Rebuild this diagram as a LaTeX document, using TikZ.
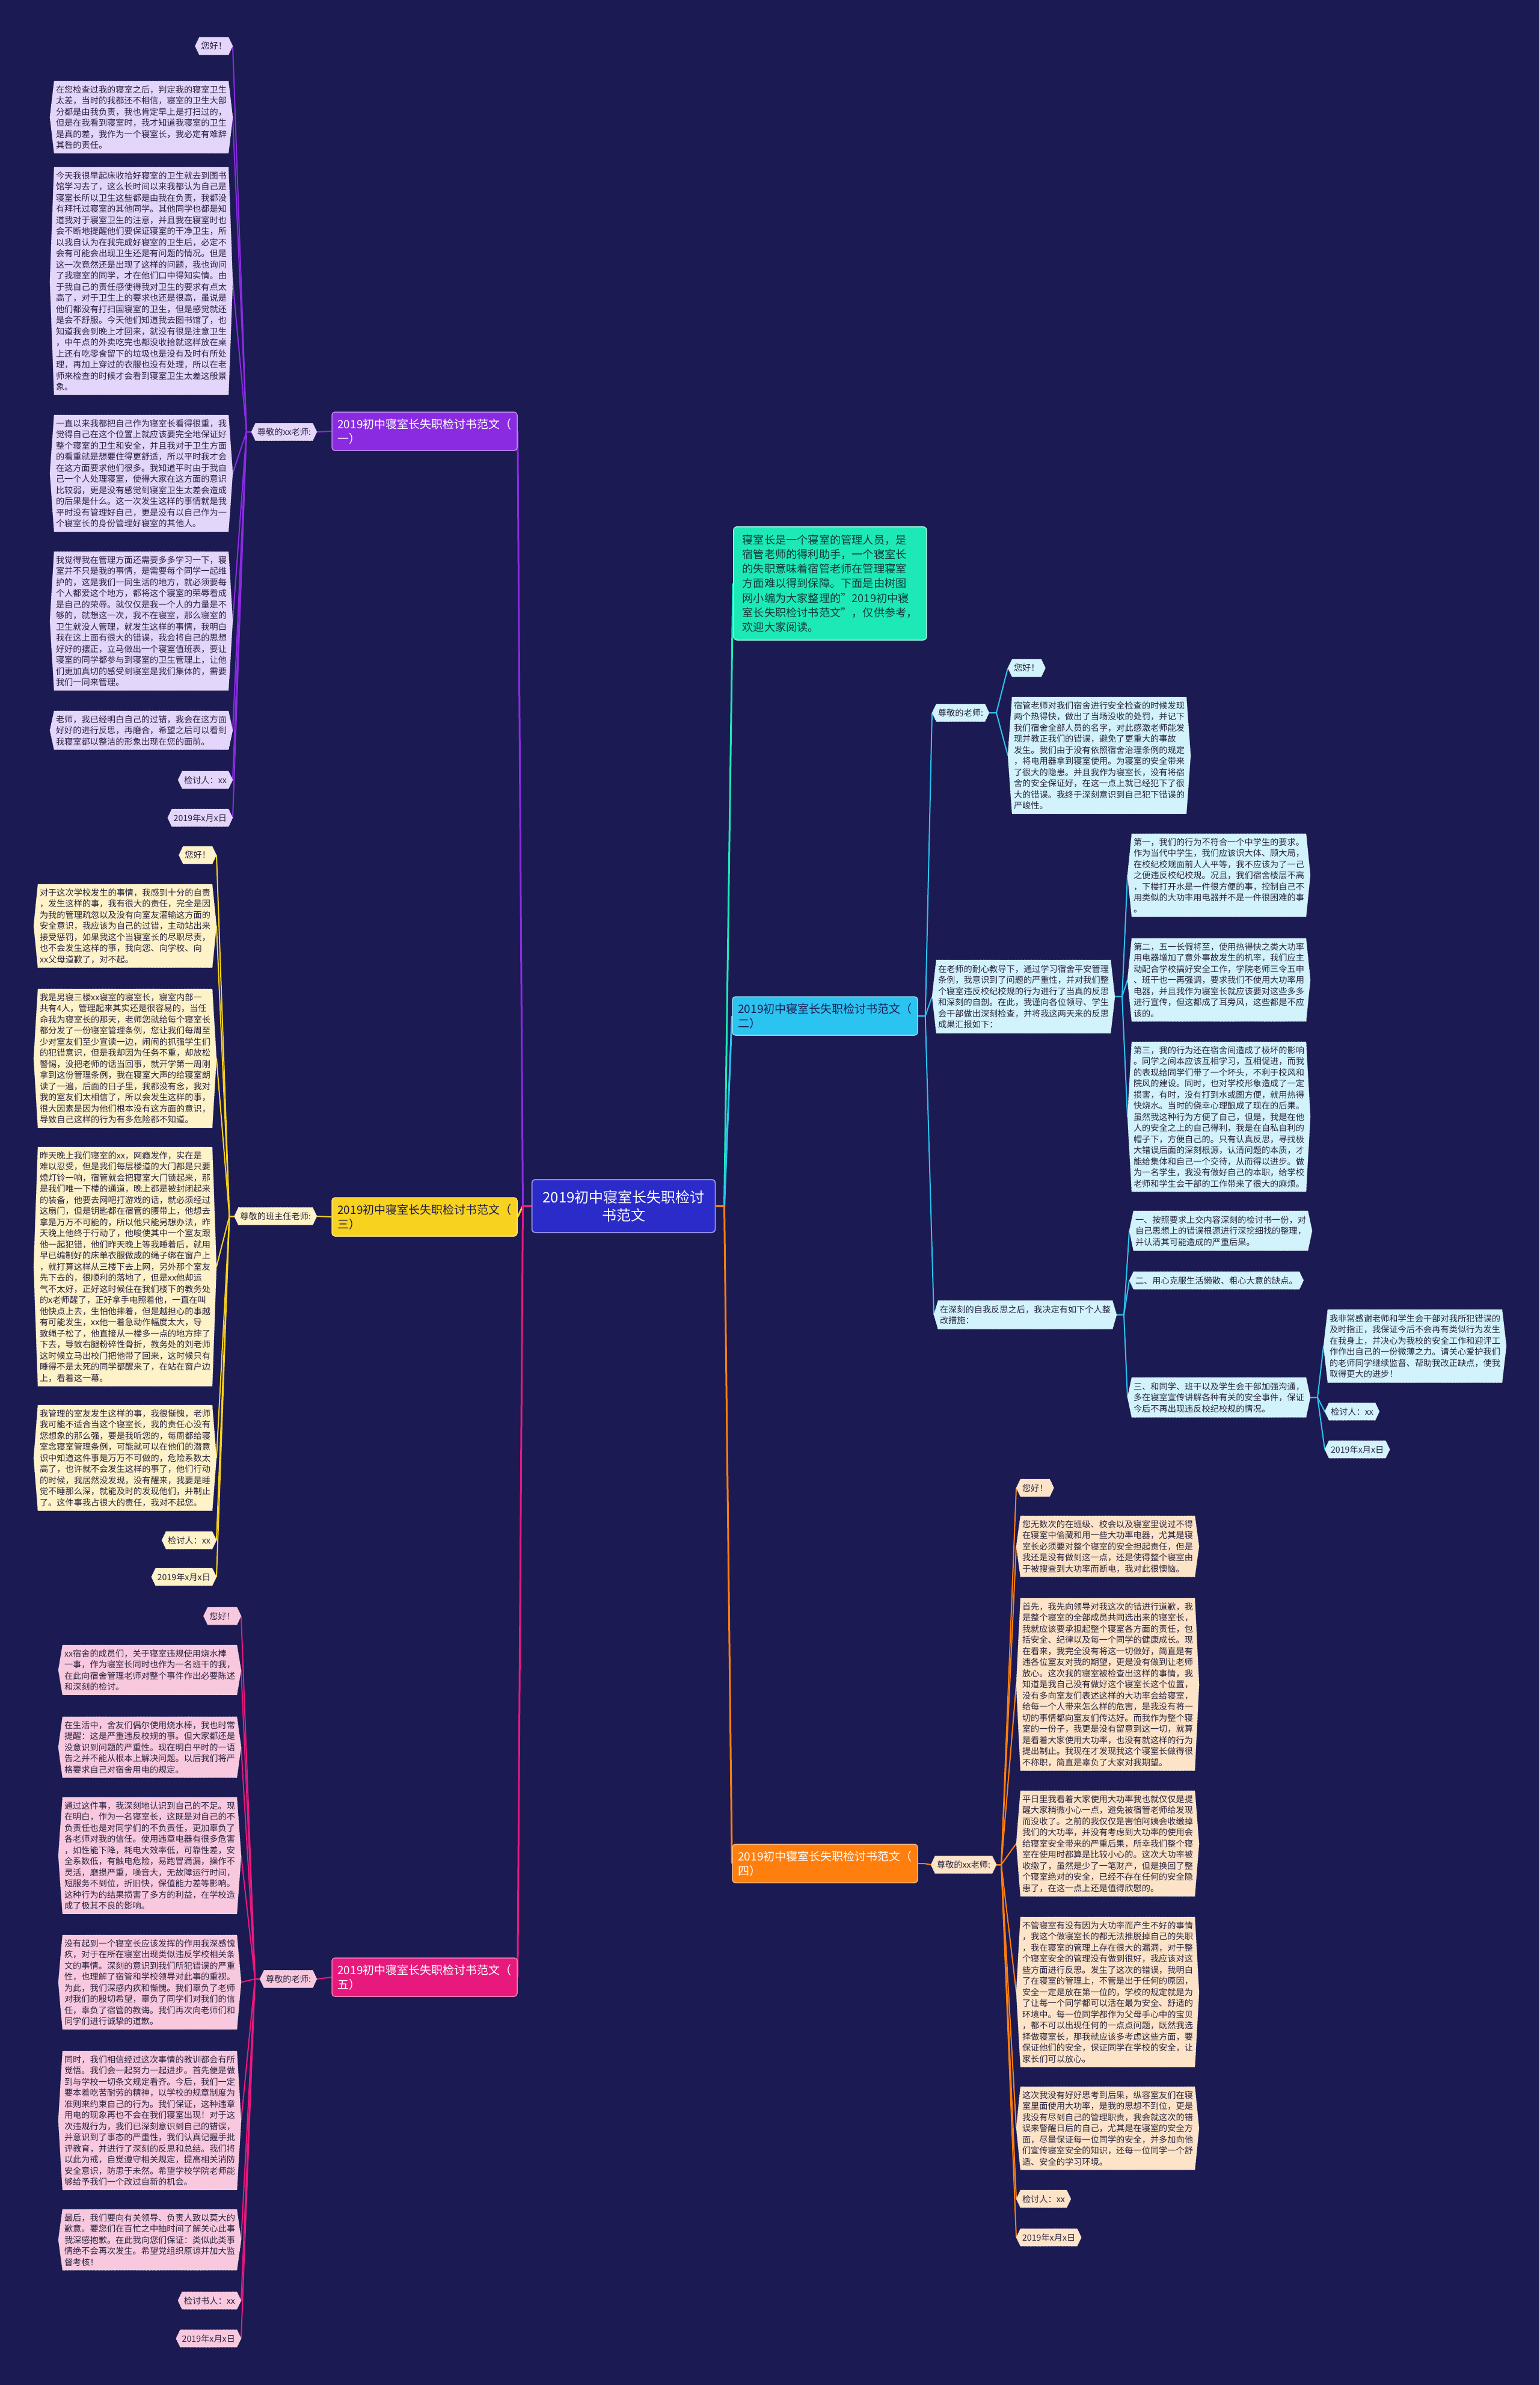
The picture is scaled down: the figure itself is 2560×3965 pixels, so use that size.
\documentclass[tikz,border=0pt]{standalone}
\usepackage{fontspec}
\setmainfont{Noto Sans CJK SC}
\usetikzlibrary{calc}
\pgfdeclarelayer{canvas}
\pgfdeclarelayer{edges}
\pgfdeclarelayer{hexbg}
\pgfsetlayers{canvas,edges,hexbg,main}
\definecolor{navybg}{HTML}{1B1A52}
\definecolor{txt}{HTML}{2A2440}
\definecolor{darktxt}{HTML}{1B1A52}
\definecolor{pur}{HTML}{8A2BE2}
\definecolor{purL}{HTML}{E3D6FA}
\definecolor{cya}{HTML}{2BC3F0}
\definecolor{cyaL}{HTML}{D2F3FB}
\definecolor{yel}{HTML}{F7D21E}
\definecolor{yelL}{HTML}{FDF2C8}
\definecolor{ora}{HTML}{FF7F0E}
\definecolor{oraL}{HTML}{FDE4C8}
\definecolor{pnk}{HTML}{E8197D}
\definecolor{pnkL}{HTML}{F8C9DE}
\definecolor{introc}{HTML}{1DE9B6}
\definecolor{introtxt}{HTML}{123A3A}
\definecolor{cblue}{HTML}{2B2BC9}
\tikzset{
  hxleaf/.style={font=\fontsize{14.2}{18.5}\selectfont, text=txt, align=left, inner xsep=3pt, inner ysep=7pt, outer sep=0pt},
  hxtag/.style={hxleaf, inner ysep=8pt},
  hexline/.style={draw=white!80!gray, densely dotted, line width=0.7pt},
  brtitle/.style={font=\fontsize{19}{24}\selectfont, align=left, rounded corners=5pt, minimum width=308pt, minimum height=64pt, line width=1.5pt, inner sep=8pt},
  lnk/.style={line width=2pt},
  trk/.style={line width=3pt}
}
\newcommand\hxfill{purL}
\newcommand\hx[4]{%
  \node[#1] (#2) at #3 {#4};
  \coordinate (#2-r) at ([xshift=7pt]#2.east);
  \coordinate (#2-l) at ([xshift=-7pt]#2.west);
  \begin{pgfonlayer}{hexbg}
    \path[hexline, fill=\hxfill] (#2.north west) -- (#2.north east) -- (#2-r) -- (#2.south east) -- (#2.south west) -- (#2-l) -- cycle;
  \end{pgfonlayer}}
\begin{document}
\begin{tikzpicture}[x=1pt,y=-1pt]
\begin{pgfonlayer}{canvas}
\fill[navybg] (0,0) rectangle (2560,3965);
\end{pgfonlayer}
\useasboundingbox (0,0) rectangle (2560,3965);

% centre and intro
\node[font=\fontsize{24}{30}\selectfont, align=center, fill=cblue, draw=cblue!55!white, line width=2pt, rounded corners=6pt, text=white, minimum width=305pt, minimum height=88pt] (c) at (1037,2005) {2019初中寝室长失职检讨\\书范文};
\node[font=\fontsize{18.2}{24.2}\selectfont, align=left, fill=introc, draw=introc!45!white, line width=1.5pt, rounded corners=6pt, text=introtxt, inner xsep=15pt, inner ysep=13pt, anchor=north west] (intro) at (1219,875) {寝室长是一个寝室的管理人员，是\\
宿管老师的得利助手，一个寝室长\\
的失职意味着宿管老师在管理寝室\\
方面难以得到保障。下面是由树图\\
网小编为大家整理的"2019初中寝\\
室长失职检讨书范文"，仅供参考，\\
欢迎大家阅读。};

% titles
\node[brtitle, fill=pur, draw=pur!55!white, text=white] (t1) at (706,717) {2019初中寝室长失职检讨书范文（\\一）};
\node[brtitle, fill=cya, draw=cya!55!white, text=darktxt] (t2) at (1372,1689) {2019初中寝室长失职检讨书范文（\\二）};
\node[brtitle, fill=yel, draw=yel!55!white, text=darktxt] (t3) at (706,2023) {2019初中寝室长失职检讨书范文（\\三）};
\node[brtitle, fill=ora, draw=ora!55!white, text=white] (t4) at (1372,3098) {2019初中寝室长失职检讨书范文（\\四）};
\node[brtitle, fill=pnk, draw=pnk!55!white, text=white] (t5) at (706,3287) {2019初中寝室长失职检讨书范文（\\五）};

% ---------------- branch 1
\renewcommand\hxfill{purL}
\hx{hxtag,anchor=east}{b1lab}{(520,718)}{尊敬的xx老师:}
\hx{hxtag,anchor=north east}{b1hi}{(380,62)}{您好！}
\hx{hxleaf,anchor=north east}{b1p1}{(380,135)}{在您检查过我的寝室之后，判定我的寝室卫生\\
太差，当时的我都还不相信，寝室的卫生大部\\
分都是由我负责，我也肯定早上是打扫过的，\\
但是在我看到寝室时，我才知道我寝室的卫生\\
是真的差，我作为一个寝室长，我必定有难辞\\
其咎的责任。}
\hx{hxleaf,anchor=north east}{b1p2}{(380,278)}{今天我很早起床收拾好寝室的卫生就去到图书\\
馆学习去了，这么长时间以来我都认为自己是\\
寝室长所以卫生这些都是由我在负责，我都没\\
有拜托过寝室的其他同学。其他同学也都是知\\
道我对于寝室卫生的注意，并且我在寝室时也\\
会不断地提醒他们要保证寝室的干净卫生，所\\
以我自认为在我完成好寝室的卫生后，必定不\\
会有可能会出现卫生还是有问题的情况。但是\\
这一次竟然还是出现了这样的问题，我也询问\\
了我寝室的同学，才在他们口中得知实情。由\\
于我自己的责任感使得我对卫生的要求有点太\\
高了，对于卫生上的要求也还是很高，虽说是\\
他们都没有打扫国寝室的卫生，但是感觉就还\\
是会不舒服。今天他们知道我去图书馆了，也\\
知道我会到晚上才回来，就没有很是注意卫生\\
，中午点的外卖吃完也都没收拾就这样放在桌\\
上还有吃零食留下的垃圾也是没有及时有所处\\
理，再加上穿过的衣服也没有处理，所以在老\\
师来检查的时候才会看到寝室卫生太差这般景\\
象。}
\hx{hxleaf,anchor=north east}{b1p3}{(380,690)}{一直以来我都把自己作为寝室长看得很重，我\\
觉得自己在这个位置上就应该要完全地保证好\\
整个寝室的卫生和安全，并且我对于卫生方面\\
的看重就是想要住得更舒适，所以平时我才会\\
在这方面要求他们很多。我知道平时由于我自\\
己一个人处理寝室，使得大家在这方面的意识\\
比较弱，更是没有感觉到寝室卫生太差会造成\\
的后果是什么。这一次发生这样的事情就是我\\
平时没有管理好自己，更是没有以自己作为一\\
个寝室长的身份管理好寝室的其他人。}
\hx{hxleaf,anchor=north east}{b1p4}{(380,917)}{我觉得我在管理方面还需要多多学习一下，寝\\
室并不只是我的事情，是需要每个同学一起维\\
护的，这是我们一同生活的地方，就必须要每\\
个人都爱这个地方，都将这个寝室的荣辱看成\\
是自己的荣辱。就仅仅是我一个人的力量是不\\
够的，就想这一次，我不在寝室，那么寝室的\\
卫生就没人管理，就发生这样的事情，我明白\\
我在这上面有很大的错误，我会将自己的思想\\
好好的摆正，立马做出一个寝室值班表，要让\\
寝室的同学都参与到寝室的卫生管理上，让他\\
们更加真切的感受到寝室是我们集体的，需要\\
我们一同来管理。}
\hx{hxleaf,anchor=north east}{b1p5}{(380,1182)}{老师，我已经明白自己的过错，我会在这方面\\
好好的进行反思，再磨合，希望之后可以看到\\
我寝室都以整洁的形象出现在您的面前。}
\hx{hxtag,anchor=north east}{b1sig}{(380,1282)}{检讨人：xx}
\hx{hxtag,anchor=north east}{b1date}{(380,1345)}{2019年x月x日}

% ---------------- branch 3
\renewcommand\hxfill{yelL}
\hx{hxtag,anchor=east}{b3lab}{(520,2022)}{尊敬的班主任老师:}
\hx{hxtag,anchor=north east}{b3hi}{(353,1407)}{您好！}
\hx{hxleaf,anchor=north east}{b3p1}{(353,1470)}{对于这次学校发生的事情，我感到十分的自责\\
，发生这样的事，我有很大的责任，完全是因\\
为我的管理疏忽以及没有向室友灌输这方面的\\
安全意识，我应该为自己的过错，主动站出来\\
接受惩罚，如果我这个当寝室长的尽职尽责，\\
也不会发生这样的事，我向您、向学校、向\\
xx父母道歉了，对不起。}
\hx{hxleaf,anchor=north east}{b3p2}{(353,1644)}{我是男寝三楼xx寝室的寝室长，寝室内部一\\
共有4人，管理起来其实还是很容易的，当任\\
命我为寝室长的那天，老师您就给每个寝室长\\
都分发了一份寝室管理条例，您让我们每周至\\
少对室友们至少宣读一边，闹闹的抓强学生们\\
的犯错意识，但是我却因为任务不重，却放松\\
警惕，没把老师的话当回事，就开学第一周刚\\
拿到这份管理条例，我在寝室大声的给寝室朗\\
读了一遍，后面的日子里，我都没有念，我对\\
我的室友们太相信了，所以会发生这样的事，\\
很大因素是因为他们根本没有这方面的意识，\\
导致自己这样的行为有多危险都不知道。}
\hx{hxleaf,anchor=north east}{b3p3}{(353,1907)}{昨天晚上我们寝室的xx，网瘾发作，实在是\\
难以忍受，但是我们每层楼道的大门都是只要\\
熄灯铃一响，宿管就会把寝室大门锁起来，那\\
是我们唯一下楼的通道，晚上都是被封闭起来\\
的装备，他要去网吧打游戏的话，就必须经过\\
这扇门，但是钥匙都在宿管的腰带上，他想去\\
拿是万万不可能的，所以他只能另想办法，昨\\
天晚上他终于行动了，他唆使其中一个室友跟\\
他一起犯错，他们昨天晚上等我睡着后，就用\\
早已编制好的床单衣服做成的绳子绑在窗户上\\
，就打算这样从三楼下去上网，另外那个室友\\
先下去的，很顺利的落地了，但是xx他却运\\
气不太好，正好这时候住在我们楼下的教务处\\
的x老师醒了，正好拿手电照着他，一直在叫\\
他快点上去，生怕他摔着，但是越担心的事越\\
有可能发生，xx他一着急动作幅度太大，导\\
致绳子松了，他直接从一楼多一点的地方摔了\\
下去，导致右腿粉碎性骨折，教务处的刘老师\\
这时候立马出校门把他带了回来，这时候只有\\
睡得不是太死的同学都醒来了，在站在窗户边\\
上，看着这一幕。}
\hx{hxleaf,anchor=north east}{b3p4}{(353,2336)}{我管理的室友发生这样的事，我很惭愧，老师\\
我可能不适合当这个寝室长，我的责任心没有\\
您想象的那么强，要是我听您的，每周都给寝\\
室念寝室管理条例，可能就可以在他们的潜意\\
识中知道这件事是万万不可做的，危险系数太\\
高了，也许就不会发生这样的事了，他们行动\\
的时候，我居然没发现，没有醒来，我要是睡\\
觉不睡那么深，就能及时的发现他们，并制止\\
了。这件事我占很大的责任，我对不起您。}
\hx{hxtag,anchor=north east}{b3sig}{(353,2546)}{检讨人：xx}
\hx{hxtag,anchor=north east}{b3date}{(353,2607)}{2019年x月x日}

% ---------------- branch 5
\renewcommand\hxfill{pnkL}
\hx{hxtag,anchor=east}{b5lab}{(520,3290)}{尊敬的老师:}
\hx{hxtag,anchor=north east}{b5hi}{(394,2672)}{您好！}
\hx{hxleaf,anchor=north east}{b5p1}{(394,2735)}{xx宿舍的成员们，关于寝室违规使用烧水棒\\
一事，作为寝室长同时也作为一名班干的我，\\
在此向宿舍管理老师对整个事件作出必要陈述\\
和深刻的检讨。}
\hx{hxleaf,anchor=north east}{b5p2}{(394,2854)}{在生活中，舍友们偶尔使用烧水棒，我也时常\\
提醒：这是严重违反校规的事。但大家都还是\\
没意识到问题的严重性。现在明白平时的一语\\
告之并不能从根本上解决问题。以后我们将严\\
格要求自己对宿舍用电的规定。}
\hx{hxleaf,anchor=north east}{b5p3}{(394,2988)}{通过这件事，我深刻地认识到自己的不足。现\\
在明白，作为一名寝室长，这既是对自己的不\\
负责任也是对同学们的不负责任，更加辜负了\\
各老师对我的信任。使用违章电器有很多危害\\
，如性能下降，耗电大效率低，可靠性差，安\\
全系数低，有触电危险，易跑冒滴漏，操作不\\
灵活，磨损严重，噪音大，无故障运行时间，\\
短服务不到位，折旧快，保值能力差等影响。\\
这种行为的结果损害了多方的利益，在学校造\\
成了极其不良的影响。}
\hx{hxleaf,anchor=north east}{b5p4}{(394,3217)}{没有起到一个寝室长应该发挥的作用我深感愧\\
疚，对于在所在寝室出现类似违反学校相关条\\
文的事情。深刻的意识到我们所犯错误的严重\\
性，也理解了宿管和学校领导对此事的重视。\\
为此，我们深感内疚和惭愧。我们辜负了老师\\
对我们的殷切希望，辜负了同学们对我们的信\\
任，辜负了宿管的教诲。我们再次向老师们和\\
同学们进行诚挚的道歉。}
\hx{hxleaf,anchor=north east}{b5p5}{(394,3410)}{同时，我们相信经过这次事情的教训都会有所\\
觉悟。我们会一起努力一起进步。首先便是做\\
到与学校一切条文规定看齐。今后，我们一定\\
要本着吃苦耐劳的精神，以学校的规章制度为\\
准则来约束自己的行为。我们保证，这种违章\\
用电的现象再也不会在我们寝室出现！对于这\\
次违规行为，我们已深刻意识到自己的错误，\\
并意识到了事态的严重性，我们认真记握手批\\
评教育，并进行了深刻的反思和总结。我们将\\
以此为戒，自觉遵守相关规定，提高相关消防\\
安全意识，防患于未然。希望学校学院老师能\\
够给予我们一个改过自新的机会。}
\hx{hxleaf,anchor=north east}{b5p6}{(394,3673)}{最后，我们要向有关领导、负责人致以莫大的\\
歉意。要您们在百忙之中抽时间了解关心此事\\
我深感抱歉。在此我向您们保证：类似此类事\\
情绝不会再次发生。希望党组织原谅并加大监\\
督考核！}
\hx{hxtag,anchor=north east}{b5sig}{(394,3810)}{检讨书人：xx}
\hx{hxtag,anchor=north east}{b5date}{(394,3873)}{2019年x月x日}

% ---------------- branch 2
\renewcommand\hxfill{cyaL}
\hx{hxtag,anchor=west}{b2lab1}{(1557,1185)}{尊敬的老师:}
\hx{hxtag,anchor=north west}{b2hi}{(1683,1096)}{您好！}
\hx{hxleaf,anchor=north west}{b2p1}{(1683,1159)}{宿管老师对我们宿舍进行安全检查的时候发现\\
两个热得快，做出了当场没收的处罚，并记下\\
我们宿舍全部人员的名字，对此感激老师能发\\
现并教正我们的错误，避免了更重大的事故\\
发生。我们由于没有依照宿舍治理条例的规定\\
，将电用器拿到寝室使用。为寝室的安全带来\\
了很大的隐患。并且我作为寝室长，没有将宿\\
舍的安全保证好，在这一点上就已经犯下了很\\
大的错误。我终于深刻意识到自己犯下错误的\\
严峻性。}
\hx{hxtag,anchor=north west}{b2lab2}{(1557,1596)}{在老师的耐心教导下，通过学习宿舍平安管理\\
条例，我意识到了问题的严重性，并对我们整\\
个寝室违反校纪校规的行为进行了当真的反思\\
和深刻的自剖。在此，我谨向各位领导、学生\\
会干部做出深刻检查，并将我这两天来的反思\\
成果汇报如下：}
\hx{hxleaf,anchor=north west}{b2p2}{(1882,1386)}{第一，我们的行为不符合一个中学生的要求。\\
作为当代中学生，我们应该识大体、顾大局，\\
在校纪校规面前人人平等，我不应该为了一己\\
之便违反校纪校规。况且，我们宿舍楼层不高\\
，下楼打开水是一件很方便的事，控制自己不\\
用类似的大功率用电器并不是一件很困难的事\\
。}
\hx{hxleaf,anchor=north west}{b2p3}{(1882,1560)}{第二，五一长假将至，使用热得快之类大功率\\
用电器增加了意外事故发生的机率，我们应主\\
动配合学校搞好安全工作，学院老师三令五申\\
、班干也一再强调，要求我们不使用大功率用\\
电器，并且我作为寝室长就应该要对这些多多\\
进行宣传，但这都成了耳旁风，这些都是不应\\
该的。}
\hx{hxleaf,anchor=north west}{b2p4}{(1882,1732)}{第三，我的行为还在宿舍间造成了极坏的影响\\
。同学之间本应该互相学习，互相促进，而我\\
的表现给同学们带了一个坏头，不利于校风和\\
院风的建设。同时，也对学校形象造成了一定\\
损害，有时，没有打到水或图方便，就用热得\\
快烧水。当时的侥幸心理酿成了现在的后果。\\
虽然我这种行为方便了自己，但是，我是在他\\
人的安全之上的自己得利，我是在自私自利的\\
帽子下，方便自己的。只有认真反思，寻找极\\
大错误后面的深刻根源，认清问题的本质，才\\
能给集体和自己一个交待，从而得以进步。做\\
为一名学生，我没有做好自己的本职，给学校\\
老师和学生会干部的工作带来了很大的麻烦。}
\hx{hxtag,anchor=north west}{b2lab3}{(1560,2162)}{在深刻的自我反思之后，我决定有如下个人整\\
改措施：}
\hx{hxtag,anchor=north west}{b2i1}{(1885,2013)}{一、按照要求上交内容深刻的检讨书一份，对\\
自己思想上的错误根源进行深挖细找的整理，\\
并认清其可能造成的严重后果。}
\hx{hxtag,anchor=north west}{b2i2}{(1885,2114)}{二、用心克服生活懒散、粗心大意的缺点。}
\hx{hxtag,anchor=north west}{b2i3}{(1882,2290)}{三、和同学、班干以及学生会干部加强沟通，\\
多在寝室宣传讲解各种有关的安全事件，保证\\
今后不再出现违反校纪校规的情况。}
\hx{hxtag,anchor=north west}{b2p5}{(2208,2177)}{我非常感谢老师和学生会干部对我所犯错误的\\
及时指正，我保证今后不会再有类似行为发生\\
在我身上，并决心为我校的安全工作和迎评工\\
作作出自己的一份微薄之力。请关心爱护我们\\
的老师同学继续监督、帮助我改正缺点，使我\\
取得更大的进步！}
\hx{hxtag,anchor=north west}{b2sig}{(2210,2332)}{检讨人：xx}
\hx{hxtag,anchor=north west}{b2date}{(2210,2395)}{2019年x月x日}

% ---------------- branch 4
\renewcommand\hxfill{oraL}
\hx{hxtag,anchor=west}{b4lab}{(1555,3100)}{尊敬的xx老师:}
\hx{hxtag,anchor=north west}{b4hi}{(1697,2459)}{您好！}
\hx{hxleaf,anchor=north west}{b4p1}{(1697,2520)}{您无数次的在班级、校会以及寝室里说过不得\\
在寝室中偷藏和用一些大功率电器，尤其是寝\\
室长必须要对整个寝室的安全担起责任，但是\\
我还是没有做到这一点，还是使得整个寝室由\\
于被搜查到大功率而断电，我对此很懊恼。}
\hx{hxleaf,anchor=north west}{b4p2}{(1697,2657)}{首先，我先向领导对我这次的错进行道歉，我\\
是整个寝室的全部成员共同选出来的寝室长，\\
我就应该要承担起整个寝室各方面的责任，包\\
括安全、纪律以及每一个同学的健康成长。现\\
在看来，我完全没有将这一切做好，简直是有\\
违各位室友对我的期望，更是没有做到让老师\\
放心。这次我的寝室被检查出这样的事情，我\\
知道是我自己没有做好这个寝室长这个位置，\\
没有多向室友们表述这样的大功率会给寝室，\\
给每一个人带来怎么样的危害，是我没有将一\\
切的事情都向室友们传达好。而我作为整个寝\\
室的一份子，我更是没有留意到这一切，就算\\
是看着大家使用大功率，也没有就这样的行为\\
提出制止。我现在才发现我这个寝室长做得很\\
不称职，简直是辜负了大家对我期望。}
\hx{hxleaf,anchor=north west}{b4p3}{(1697,2977)}{平日里我看着大家使用大功率我也就仅仅是提\\
醒大家稍微小心一点，避免被宿管老师给发现\\
而没收了。之前的我仅仅是害怕阿姨会收缴掉\\
我们的大功率，并没有考虑到大功率的使用会\\
给寝室安全带来的严重后果，所幸我们整个寝\\
室在使用时都算是比较小心的。这次大功率被\\
收缴了，虽然是少了一笔财产，但是换回了整\\
个寝室绝对的安全，已经不存在任何的安全隐\\
患了，在这一点上还是值得欣慰的。}
\hx{hxleaf,anchor=north west}{b4p4}{(1697,3187)}{不管寝室有没有因为大功率而产生不好的事情\\
，我这个做寝室长的都无法推脱掉自己的失职\\
，我在寝室的管理上存在很大的漏洞，对于整\\
个寝室安全的管理没有做到很好，我应该对这\\
些方面进行反思。发生了这次的错误，我明白\\
了在寝室的管理上，不管是出于任何的原因，\\
安全一定是放在第一位的，学校的规定就是为\\
了让每一个同学都可以活在最为安全、舒适的\\
环境中。每一位同学都作为父母手心中的宝贝\\
，都不可以出现任何的一点点问题，既然我选\\
择做寝室长，那我就应该多考虑这些方面，要\\
保证他们的安全，保证同学在学校的安全，让\\
家长们可以放心。}
\hx{hxleaf,anchor=north west}{b4p5}{(1697,3469)}{这次我没有好好思考到后果，纵容室友们在寝\\
室里面使用大功率，是我的思想不到位，更是\\
我没有尽到自己的管理职责，我会就这次的错\\
误来警醒日后的自己，尤其是在寝室的安全方\\
面，尽量保证每一位同学的安全，并多加向他\\
们宣传寝室安全的知识，还每一位同学一个舒\\
适、安全的学习环境。}
\hx{hxtag,anchor=north west}{b4sig}{(1697,3641)}{检讨人：xx}
\hx{hxtag,anchor=north west}{b4date}{(1697,3705)}{2019年x月x日}

% ---------------- connectors
\begin{pgfonlayer}{edges}
\draw[trk,introc] (c.east) -- ++(14,0) -- (intro.west);
\draw[trk,cya] (c.east) -- ++(14,0) -- (t2.west);
\draw[trk,ora] (c.east) -- ++(14,0) -- (t4.west);
\draw[trk,pur] (c.west) -- ++(-14,0) -- (t1.east);
\draw[trk,yel] (c.west) -- ++(-14,0) -- (t3.east);
\draw[trk,pnk] (c.west) -- ++(-14,0) -- (t5.east);
% branch 1
\draw[lnk,pur] (t1.west) -- (b1lab-r);
\foreach \n in {b1hi,b1p1,b1p2,b1p3,b1p4,b1p5,b1sig,b1date}
  \draw[lnk,pur] (b1lab-l) -- ++(-8,0) -- (\n-r);
% branch 3
\draw[lnk,yel] (t3.west) -- (b3lab-r);
\foreach \n in {b3hi,b3p1,b3p2,b3p3,b3p4,b3sig,b3date}
  \draw[lnk,yel] (b3lab-l) -- ++(-8,0) -- (\n-r);
% branch 5
\draw[lnk,pnk] (t5.west) -- (b5lab-r);
\foreach \n in {b5hi,b5p1,b5p2,b5p3,b5p4,b5p5,b5p6,b5sig,b5date}
  \draw[lnk,pnk] (b5lab-l) -- ++(-8,0) -- (\n-r);
% branch 2
\foreach \n in {b2lab1,b2lab2,b2lab3}
  \draw[lnk,cya] (t2.east) -- ++(12,0) -- (\n-l);
\foreach \n in {b2hi,b2p1}
  \draw[lnk,cya] (b2lab1-r) -- ++(12,0) -- (\n-l);
\foreach \n in {b2p2,b2p3,b2p4}
  \draw[lnk,cya] (b2lab2-r) -- ++(12,0) -- (\n-l);
\foreach \n in {b2i1,b2i2,b2i3}
  \draw[lnk,cya] (b2lab3-r) -- ++(12,0) -- (\n-l);
\foreach \n in {b2p5,b2sig,b2date}
  \draw[lnk,cya] (b2i3-r) -- ++(12,0) -- (\n-l);
% branch 4
\draw[lnk,ora] (t4.east) -- ++(10,0) -- (b4lab-l);
\foreach \n in {b4hi,b4p1,b4p2,b4p3,b4p4,b4p5,b4sig,b4date}
  \draw[lnk,ora] (b4lab-r) -- ++(8,0) -- (\n-l);
\end{pgfonlayer}
\end{tikzpicture}
\end{document}
